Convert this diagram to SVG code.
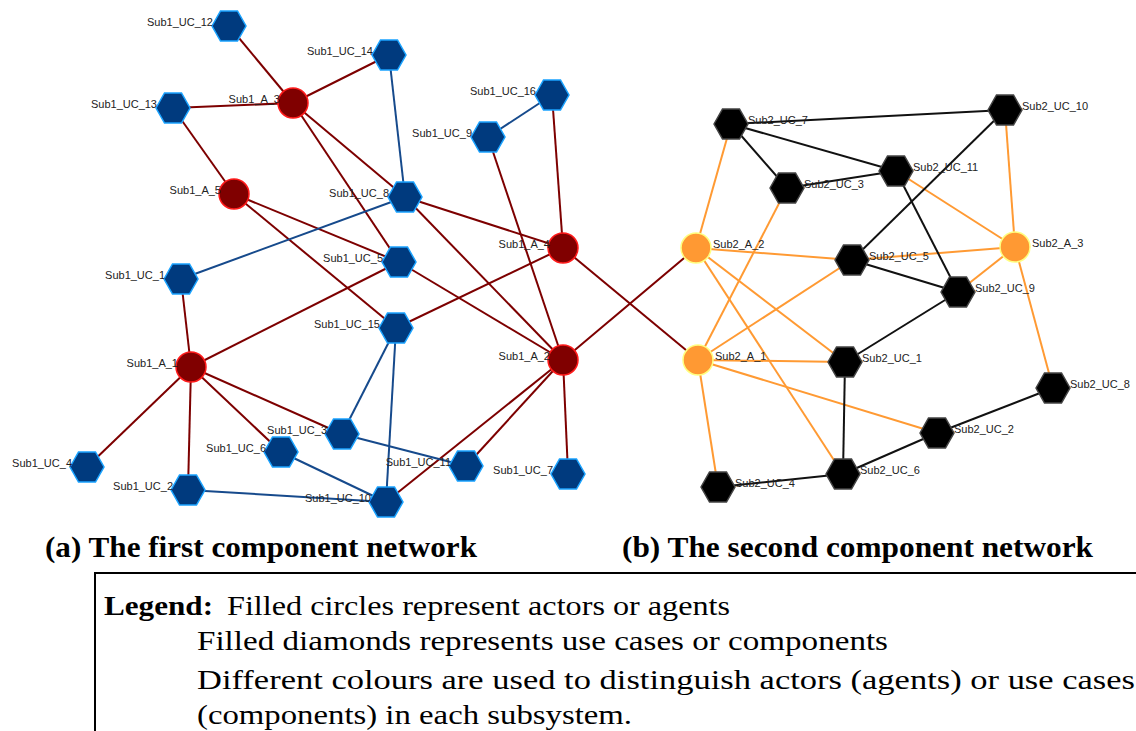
<svg xmlns="http://www.w3.org/2000/svg" xmlns:xlink="http://www.w3.org/1999/xlink" width="1136" height="731" viewBox="0 0 1136 731">
<style>
.er{stroke:#7d0000;stroke-width:2;fill:none}
.eb{stroke:#164a8c;stroke-width:2;fill:none}
.eo{stroke:#ff9a33;stroke-width:2;fill:none}
.ek{stroke:#111;stroke-width:2;fill:none}
.a1{fill:#800000;stroke:#ff1a1a;stroke-width:1.5}
.u1{fill:#003a7e;stroke:#1aa3ff;stroke-width:1.5}
.a2{fill:#ff9933;stroke:#ffff80;stroke-width:1.5}
.u2{fill:#000;stroke:#444;stroke-width:1.5}
.lb{font-family:"Liberation Sans",Arial,sans-serif;font-size:11px;fill:#222}
.le{text-anchor:end}
.cap{font-family:"Liberation Serif","Times New Roman",serif;font-weight:bold;font-size:29px;fill:#000}
.lg{font-family:"Liberation Serif","Times New Roman",serif;font-size:28px;fill:#000}
</style>
<defs>
<polygon id="hex" points="-17,0 -8.5,-15 8.5,-15 17,0 8.5,15 -8.5,15"/>
</defs>
<rect width="1136" height="731" fill="#fff"/>
<g id="connectors">
<line class="er" x1="293" y1="103" x2="229" y2="26"/>
<line class="er" x1="293" y1="103" x2="389" y2="55"/>
<line class="er" x1="293" y1="103" x2="173" y2="108"/>
<line class="er" x1="293" y1="103" x2="405" y2="197"/>
<line class="er" x1="293" y1="103" x2="399" y2="262"/>
<line class="er" x1="173" y1="108" x2="234" y2="194"/>
<line class="er" x1="234" y1="194" x2="399" y2="262"/>
<line class="er" x1="234" y1="194" x2="396" y2="328"/>
<line class="er" x1="405" y1="197" x2="563" y2="248"/>
<line class="er" x1="405" y1="197" x2="563" y2="360"/>
<line class="er" x1="552" y1="95" x2="563" y2="248"/>
<line class="er" x1="488" y1="137" x2="563" y2="360"/>
<line class="er" x1="396" y1="328" x2="563" y2="248"/>
<line class="er" x1="399" y1="262" x2="563" y2="360"/>
<line class="er" x1="191" y1="367" x2="399" y2="262"/>
<line class="er" x1="191" y1="367" x2="181" y2="279"/>
<line class="er" x1="191" y1="367" x2="87" y2="467"/>
<line class="er" x1="191" y1="367" x2="188" y2="490"/>
<line class="er" x1="191" y1="367" x2="281" y2="452"/>
<line class="er" x1="191" y1="367" x2="342" y2="434"/>
<line class="er" x1="563" y1="360" x2="386" y2="502"/>
<line class="er" x1="563" y1="360" x2="466" y2="466"/>
<line class="er" x1="563" y1="360" x2="568" y2="473"/>
<line class="er" x1="563" y1="248" x2="698" y2="360"/>
<line class="er" x1="563" y1="360" x2="696" y2="248"/>
<line class="eb" x1="389" y1="55" x2="405" y2="197"/>
<line class="eb" x1="488" y1="137" x2="552" y2="95"/>
<line class="eb" x1="405" y1="197" x2="181" y2="279"/>
<line class="eb" x1="396" y1="328" x2="342" y2="434"/>
<line class="eb" x1="396" y1="328" x2="386" y2="502"/>
<line class="eb" x1="342" y1="434" x2="466" y2="466"/>
<line class="eb" x1="281" y1="452" x2="386" y2="502"/>
<line class="eb" x1="188" y1="490" x2="386" y2="502"/>
<line class="eo" x1="696" y1="248" x2="731" y2="124"/>
<line class="eo" x1="696" y1="248" x2="852" y2="260"/>
<line class="eo" x1="696" y1="248" x2="845" y2="362"/>
<line class="eo" x1="696" y1="248" x2="843" y2="474"/>
<line class="eo" x1="698" y1="360" x2="787" y2="188"/>
<line class="eo" x1="698" y1="360" x2="852" y2="260"/>
<line class="eo" x1="698" y1="360" x2="845" y2="362"/>
<line class="eo" x1="698" y1="360" x2="937" y2="433"/>
<line class="eo" x1="698" y1="360" x2="718" y2="487"/>
<line class="eo" x1="1015" y1="247" x2="1005" y2="110"/>
<line class="eo" x1="1015" y1="247" x2="896" y2="171"/>
<line class="eo" x1="1015" y1="247" x2="852" y2="260"/>
<line class="eo" x1="1015" y1="247" x2="958" y2="292"/>
<line class="eo" x1="1015" y1="247" x2="1053" y2="388"/>
<line class="ek" x1="731" y1="124" x2="1005" y2="110"/>
<line class="ek" x1="731" y1="124" x2="896" y2="171"/>
<line class="ek" x1="731" y1="124" x2="787" y2="188"/>
<line class="ek" x1="787" y1="188" x2="896" y2="171"/>
<line class="ek" x1="1005" y1="110" x2="852" y2="260"/>
<line class="ek" x1="896" y1="171" x2="958" y2="292"/>
<line class="ek" x1="852" y1="260" x2="958" y2="292"/>
<line class="ek" x1="958" y1="292" x2="845" y2="362"/>
<line class="ek" x1="845" y1="362" x2="843" y2="474"/>
<line class="ek" x1="843" y1="474" x2="718" y2="487"/>
<line class="ek" x1="843" y1="474" x2="937" y2="433"/>
<line class="ek" x1="937" y1="433" x2="1053" y2="388"/>
</g>
<g id="Sub1_UC_12"><use xlink:href="#hex" class="u1" x="229" y="26"/><text class="lb le" x="213" y="26">Sub1_UC_12</text></g>
<g id="Sub1_UC_14"><use xlink:href="#hex" class="u1" x="389" y="55"/><text class="lb le" x="373" y="55">Sub1_UC_14</text></g>
<g id="Sub1_A_3"><circle class="a1" cx="293" cy="103" r="15"/><text class="lb le" x="280" y="103">Sub1_A_3</text></g>
<g id="Sub1_UC_13"><use xlink:href="#hex" class="u1" x="173" y="108"/><text class="lb le" x="157" y="108">Sub1_UC_13</text></g>
<g id="Sub1_UC_16"><use xlink:href="#hex" class="u1" x="552" y="95"/><text class="lb le" x="536" y="95">Sub1_UC_16</text></g>
<g id="Sub1_UC_9"><use xlink:href="#hex" class="u1" x="488" y="137"/><text class="lb le" x="472" y="137">Sub1_UC_9</text></g>
<g id="Sub1_A_5"><circle class="a1" cx="234" cy="194" r="15"/><text class="lb le" x="221" y="194">Sub1_A_5</text></g>
<g id="Sub1_UC_8"><use xlink:href="#hex" class="u1" x="405" y="197"/><text class="lb le" x="389" y="197">Sub1_UC_8</text></g>
<g id="Sub1_A_4"><circle class="a1" cx="563" cy="248" r="15"/><text class="lb le" x="550" y="248">Sub1_A_4</text></g>
<g id="Sub1_UC_5"><use xlink:href="#hex" class="u1" x="399" y="262"/><text class="lb le" x="383" y="262">Sub1_UC_5</text></g>
<g id="Sub1_UC_1"><use xlink:href="#hex" class="u1" x="181" y="279"/><text class="lb le" x="165" y="279">Sub1_UC_1</text></g>
<g id="Sub1_UC_15"><use xlink:href="#hex" class="u1" x="396" y="328"/><text class="lb le" x="380" y="328">Sub1_UC_15</text></g>
<g id="Sub1_A_1"><circle class="a1" cx="191" cy="367" r="15"/><text class="lb le" x="178" y="367">Sub1_A_1</text></g>
<g id="Sub1_A_2"><circle class="a1" cx="563" cy="360" r="15"/><text class="lb le" x="550" y="360">Sub1_A_2</text></g>
<g id="Sub1_UC_3"><use xlink:href="#hex" class="u1" x="342" y="434"/><text class="lb le" x="327" y="434">Sub1_UC_3</text></g>
<g id="Sub1_UC_6"><use xlink:href="#hex" class="u1" x="281" y="452"/><text class="lb le" x="266" y="452">Sub1_UC_6</text></g>
<g id="Sub1_UC_4"><use xlink:href="#hex" class="u1" x="87" y="467"/><text class="lb le" x="72" y="467">Sub1_UC_4</text></g>
<g id="Sub1_UC_11"><use xlink:href="#hex" class="u1" x="466" y="466"/><text class="lb le" x="451" y="466">Sub1_UC_11</text></g>
<g id="Sub1_UC_7"><use xlink:href="#hex" class="u1" x="568" y="474"/><text class="lb le" x="553" y="474">Sub1_UC_7</text></g>
<g id="Sub1_UC_2"><use xlink:href="#hex" class="u1" x="188" y="490"/><text class="lb le" x="173" y="490">Sub1_UC_2</text></g>
<g id="Sub1_UC_10"><use xlink:href="#hex" class="u1" x="386" y="502"/><text class="lb le" x="371" y="502">Sub1_UC_10</text></g>
<g id="Sub2_UC_7"><use xlink:href="#hex" class="u2" x="731" y="124"/><text class="lb" x="748" y="124">Sub2_UC_7</text></g>
<g id="Sub2_UC_10"><use xlink:href="#hex" class="u2" x="1005" y="110"/><text class="lb" x="1022" y="110">Sub2_UC_10</text></g>
<g id="Sub2_UC_11"><use xlink:href="#hex" class="u2" x="896" y="171"/><text class="lb" x="913" y="171">Sub2_UC_11</text></g>
<g id="Sub2_UC_3"><use xlink:href="#hex" class="u2" x="787" y="188"/><text class="lb" x="804" y="188">Sub2_UC_3</text></g>
<g id="Sub2_A_2"><circle class="a2" cx="696" cy="248" r="15"/><text class="lb" x="713" y="248">Sub2_A_2</text></g>
<g id="Sub2_UC_5"><use xlink:href="#hex" class="u2" x="852" y="260"/><text class="lb" x="869" y="260">Sub2_UC_5</text></g>
<g id="Sub2_A_3"><circle class="a2" cx="1015" cy="247" r="15"/><text class="lb" x="1032" y="247">Sub2_A_3</text></g>
<g id="Sub2_UC_9"><use xlink:href="#hex" class="u2" x="958" y="292"/><text class="lb" x="975" y="292">Sub2_UC_9</text></g>
<g id="Sub2_A_1"><circle class="a2" cx="698" cy="360" r="15"/><text class="lb" x="715" y="360">Sub2_A_1</text></g>
<g id="Sub2_UC_1"><use xlink:href="#hex" class="u2" x="845" y="362"/><text class="lb" x="862" y="362">Sub2_UC_1</text></g>
<g id="Sub2_UC_8"><use xlink:href="#hex" class="u2" x="1053" y="388"/><text class="lb" x="1070" y="388">Sub2_UC_8</text></g>
<g id="Sub2_UC_2"><use xlink:href="#hex" class="u2" x="937" y="433"/><text class="lb" x="954" y="433">Sub2_UC_2</text></g>
<g id="Sub2_UC_6"><use xlink:href="#hex" class="u2" x="843" y="474"/><text class="lb" x="860" y="474">Sub2_UC_6</text></g>
<g id="Sub2_UC_4"><use xlink:href="#hex" class="u2" x="718" y="487"/><text class="lb" x="735" y="487">Sub2_UC_4</text></g>
<text class="cap" x="45" y="557" textLength="432" lengthAdjust="spacingAndGlyphs">(a) The first component network</text>
<text class="cap" x="622" y="557" textLength="471" lengthAdjust="spacingAndGlyphs">(b) The second component network</text>
<path d="M95,731 V573 H1136" fill="none" stroke="#000" stroke-width="2"/>
<text class="lg" x="104" y="615" font-weight="bold" textLength="109" lengthAdjust="spacingAndGlyphs">Legend:</text>
<text class="lg" x="227" y="615" textLength="503" lengthAdjust="spacingAndGlyphs">Filled circles represent actors or agents</text>
<text class="lg" x="197" y="650" textLength="691" lengthAdjust="spacingAndGlyphs">Filled diamonds represents use cases or components</text>
<text class="lg" x="197" y="689" textLength="938" lengthAdjust="spacingAndGlyphs">Different colours are used to distinguish actors (agents) or use cases</text>
<text class="lg" x="197" y="724" textLength="435" lengthAdjust="spacingAndGlyphs">(components) in each subsystem.</text>
</svg>
